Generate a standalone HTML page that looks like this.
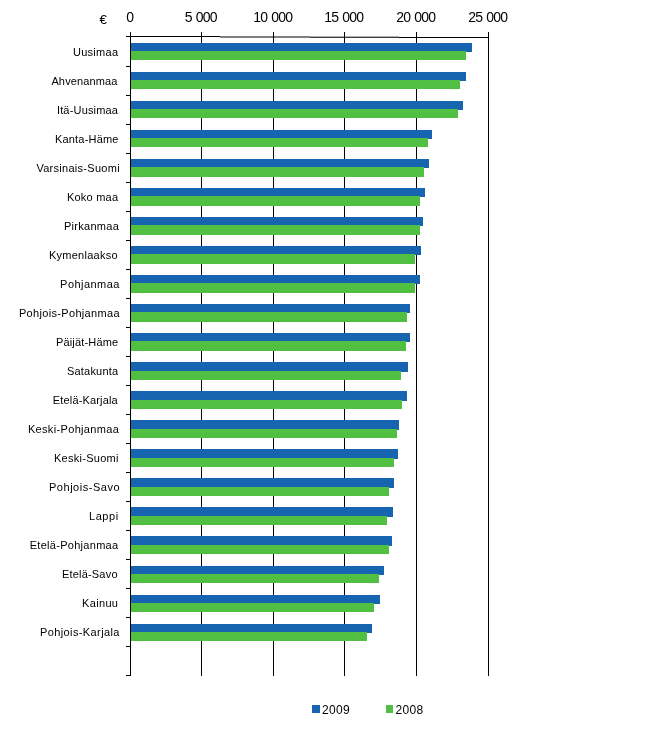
<!DOCTYPE html>
<html lang="fi"><head><meta charset="utf-8"><title>Kaavio</title>
<style>
html,body{margin:0;padding:0;background:#fff;}
body{width:647px;height:730px;overflow:hidden;position:relative;font-family:"Liberation Sans",Arial,sans-serif;color:#000;}
.b{position:absolute;left:131px;}
.b9{background:#1765b0;}
.b8{background:#51bf42;}
.l{position:absolute;background:#000;}
.c{position:absolute;font-size:11px;line-height:14px;white-space:nowrap;letter-spacing:0.3px;}
.x{position:absolute;top:9.3px;word-spacing:0.9px;width:60px;text-align:center;font-size:14px;line-height:16px;white-space:nowrap;letter-spacing:-0.78px;}
.g{position:absolute;font-size:12px;line-height:14px;letter-spacing:0.33px;white-space:nowrap;}
</style></head><body>

<div class="l" style="left:126px;top:36px;width:94px;height:1px"></div>
<div class="l" style="left:220px;top:36px;width:90px;height:2px;background:#808080"></div>
<div class="l" style="left:310px;top:36px;width:89px;height:1px;background:#b0b0b0"></div>
<div class="l" style="left:310px;top:37px;width:89px;height:1px;background:#404040"></div>
<div class="l" style="left:399px;top:37px;width:90px;height:1px"></div>
<div class="l" style="left:130px;top:32px;width:1px;height:644px"></div>
<div class="l" style="left:201px;top:32px;width:1px;height:644px"></div>
<div class="l" style="left:273px;top:32px;width:1px;height:644px"></div>
<div class="l" style="left:344px;top:32px;width:1px;height:644px"></div>
<div class="l" style="left:416px;top:32px;width:1px;height:644px"></div>
<div class="l" style="left:488px;top:32px;width:1px;height:644px"></div>
<div class="l" style="left:126px;top:66px;width:4px;height:1px"></div>
<div class="l" style="left:126px;top:95px;width:4px;height:1px"></div>
<div class="l" style="left:126px;top:124px;width:4px;height:1px"></div>
<div class="l" style="left:126px;top:153px;width:4px;height:1px"></div>
<div class="l" style="left:126px;top:182px;width:4px;height:1px"></div>
<div class="l" style="left:126px;top:211px;width:4px;height:1px"></div>
<div class="l" style="left:126px;top:240px;width:4px;height:1px"></div>
<div class="l" style="left:126px;top:269px;width:4px;height:1px"></div>
<div class="l" style="left:126px;top:298px;width:4px;height:1px"></div>
<div class="l" style="left:126px;top:327px;width:4px;height:1px"></div>
<div class="l" style="left:126px;top:356px;width:4px;height:1px"></div>
<div class="l" style="left:126px;top:385px;width:4px;height:1px"></div>
<div class="l" style="left:126px;top:414px;width:4px;height:1px"></div>
<div class="l" style="left:126px;top:443px;width:4px;height:1px"></div>
<div class="l" style="left:126px;top:472px;width:4px;height:1px"></div>
<div class="l" style="left:126px;top:501px;width:4px;height:1px"></div>
<div class="l" style="left:126px;top:530px;width:4px;height:1px"></div>
<div class="l" style="left:126px;top:559px;width:4px;height:1px"></div>
<div class="l" style="left:126px;top:588px;width:4px;height:1px"></div>
<div class="l" style="left:126px;top:617px;width:4px;height:1px"></div>
<div class="l" style="left:126px;top:646px;width:4px;height:1px"></div>
<div class="l" style="left:126px;top:675px;width:4px;height:1px"></div>
<div class="b b9" style="top:43px;height:9px;width:341px"></div>
<div class="b b8" style="top:51px;height:9px;width:335px"></div>
<div class="c" style="top:45px;left:72.9px;letter-spacing:0.30px">Uusimaa</div>
<div class="b b9" style="top:72px;height:9px;width:335px"></div>
<div class="b b8" style="top:80px;height:9px;width:329px"></div>
<div class="c" style="top:74px;left:51.4px;letter-spacing:0.14px">Ahvenanmaa</div>
<div class="b b9" style="top:101px;height:9px;width:332px"></div>
<div class="b b8" style="top:109px;height:9px;width:327px"></div>
<div class="c" style="top:103px;left:56.9px;letter-spacing:0.18px">Itä-Uusimaa</div>
<div class="b b9" style="top:130px;height:9px;width:301px"></div>
<div class="b b8" style="top:138px;height:9px;width:297px"></div>
<div class="c" style="top:132px;left:54.9px;letter-spacing:0.20px">Kanta-Häme</div>
<div class="b b9" style="top:159px;height:9px;width:298px"></div>
<div class="b b8" style="top:167px;height:10px;width:293px"></div>
<div class="c" style="top:161px;left:36.4px;letter-spacing:0.28px">Varsinais-Suomi</div>
<div class="b b9" style="top:188px;height:9px;width:294px"></div>
<div class="b b8" style="top:196px;height:10px;width:289px"></div>
<div class="c" style="top:190px;left:66.9px;letter-spacing:0.23px">Koko maa</div>
<div class="b b9" style="top:217px;height:9px;width:292px"></div>
<div class="b b8" style="top:225px;height:10px;width:289px"></div>
<div class="c" style="top:219px;left:63.9px;letter-spacing:0.29px">Pirkanmaa</div>
<div class="b b9" style="top:246px;height:9px;width:290px"></div>
<div class="b b8" style="top:254px;height:10px;width:284px"></div>
<div class="c" style="top:248px;left:49.0px;letter-spacing:0.25px">Kymenlaakso</div>
<div class="b b9" style="top:275px;height:9px;width:289px"></div>
<div class="b b8" style="top:283px;height:10px;width:284px"></div>
<div class="c" style="top:277px;left:60.1px;letter-spacing:0.45px">Pohjanmaa</div>
<div class="b b9" style="top:304px;height:9px;width:279px"></div>
<div class="b b8" style="top:312px;height:10px;width:276px"></div>
<div class="c" style="top:306px;left:18.9px;letter-spacing:0.33px">Pohjois-Pohjanmaa</div>
<div class="b b9" style="top:333px;height:9px;width:279px"></div>
<div class="b b8" style="top:341px;height:10px;width:275px"></div>
<div class="c" style="top:335px;left:55.9px;letter-spacing:0.18px">Päijät-Häme</div>
<div class="b b9" style="top:362px;height:10px;width:277px"></div>
<div class="b b8" style="top:371px;height:9px;width:270px"></div>
<div class="c" style="top:364px;left:66.9px;letter-spacing:0.22px">Satakunta</div>
<div class="b b9" style="top:391px;height:10px;width:276px"></div>
<div class="b b8" style="top:400px;height:9px;width:271px"></div>
<div class="c" style="top:393px;left:52.8px;letter-spacing:0.16px">Etelä-Karjala</div>
<div class="b b9" style="top:420px;height:10px;width:268px"></div>
<div class="b b8" style="top:429px;height:9px;width:266px"></div>
<div class="c" style="top:422px;left:27.9px;letter-spacing:0.34px">Keski-Pohjanmaa</div>
<div class="b b9" style="top:449px;height:10px;width:267px"></div>
<div class="b b8" style="top:458px;height:9px;width:263px"></div>
<div class="c" style="top:451px;left:53.9px;letter-spacing:0.28px">Keski-Suomi</div>
<div class="b b9" style="top:478px;height:10px;width:263px"></div>
<div class="b b8" style="top:487px;height:9px;width:258px"></div>
<div class="c" style="top:480px;left:49.0px;letter-spacing:0.52px">Pohjois-Savo</div>
<div class="b b9" style="top:507px;height:10px;width:262px"></div>
<div class="b b8" style="top:516px;height:9px;width:256px"></div>
<div class="c" style="top:509px;left:89.0px;letter-spacing:0.55px">Lappi</div>
<div class="b b9" style="top:536px;height:10px;width:261px"></div>
<div class="b b8" style="top:545px;height:9px;width:258px"></div>
<div class="c" style="top:538px;left:29.7px;letter-spacing:0.29px">Etelä-Pohjanmaa</div>
<div class="b b9" style="top:566px;height:9px;width:253px"></div>
<div class="b b8" style="top:574px;height:9px;width:248px"></div>
<div class="c" style="top:567px;left:61.9px;letter-spacing:0.20px">Etelä-Savo</div>
<div class="b b9" style="top:595px;height:9px;width:249px"></div>
<div class="b b8" style="top:603px;height:9px;width:243px"></div>
<div class="c" style="top:596px;left:82.0px;letter-spacing:0.34px">Kainuu</div>
<div class="b b9" style="top:624px;height:9px;width:241px"></div>
<div class="b b8" style="top:632px;height:9px;width:236px"></div>
<div class="c" style="top:625px;left:40.0px;letter-spacing:0.39px">Pohjois-Karjala</div>
<div class="x" style="left:99.7px">0</div>
<div class="x" style="left:170.7px">5 000</div>
<div class="x" style="left:242.7px">10 000</div>
<div class="x" style="left:313.7px">15 000</div>
<div class="x" style="left:385.7px">20 000</div>
<div class="x" style="left:457.7px">25 000</div>
<div class="g" style="left:99.6px;top:12.4px;font-size:13.33px;line-height:16px;letter-spacing:0">€</div>
<div class="b9" style="position:absolute;left:312px;top:705px;width:8px;height:8px"></div>
<div class="g" style="left:322px;top:703px">2009</div>
<div class="b8" style="position:absolute;left:386px;top:705px;width:7px;height:8px"></div>
<div class="g" style="left:395.5px;top:703px">2008</div>
</body></html>
